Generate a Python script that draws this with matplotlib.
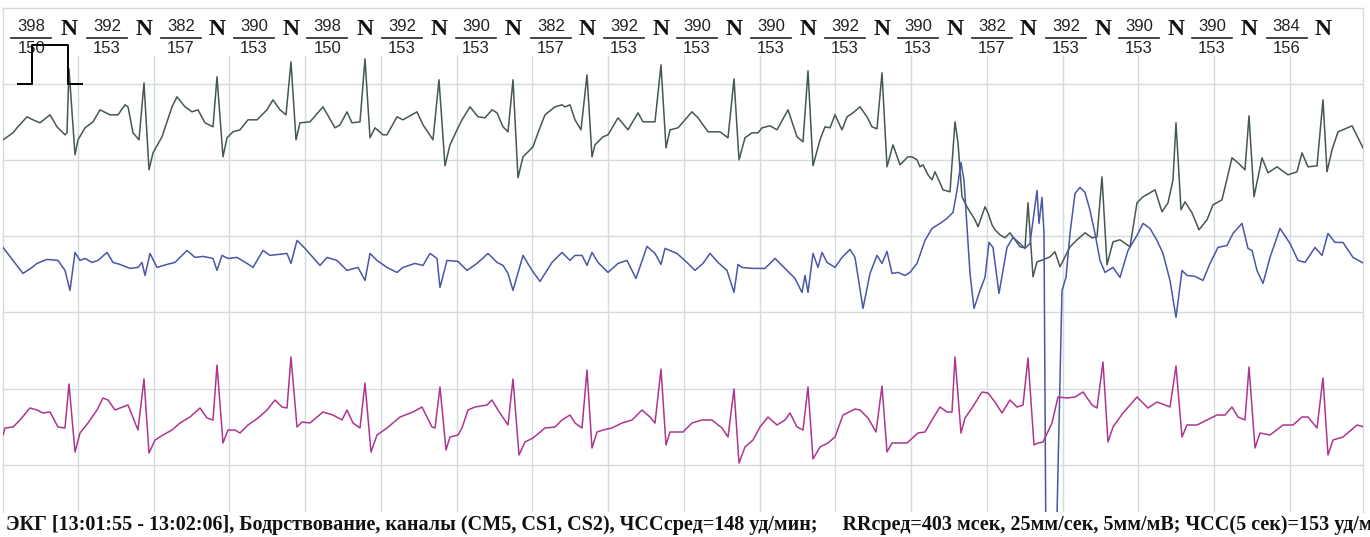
import numpy as np
import matplotlib.pyplot as plt
from matplotlib.transforms import blended_transform_factory

# recording: 25 mm/s, 5 mm/mV, grid 10 mm = 0.4 s / 2 mV
FS = 189.4      # samples per second
GAIN = 38.15    # counts per mV

# channel CM5 (vertices: sample index, counts)
cm5_n = [1, 11, 15, 25, 31, 38, 48, 55, 63, 65, 67, 73, 76, 83, 91, 98, 108, 116, 123, 126,
         131, 137, 142, 147, 151, 160, 170, 175, 183, 190, 196, 203, 211, 215, 221, 225, 231,
         238, 246, 255, 265, 271, 278, 284, 289, 294, 298, 308, 321, 333, 338, 345, 350, 358,
         363, 368, 373, 381, 385, 395, 401, 415, 421, 431, 437, 443, 448, 456, 460, 468, 476,
         483, 490, 495, 501, 506, 511, 516, 521, 531, 536, 543, 553, 560, 563, 568, 573, 579,
         585, 590, 593, 601, 606, 616, 626, 636, 641, 653, 659, 664, 668, 676, 690, 696, 706,
         718, 726, 732, 737, 743, 750, 756, 760, 768, 775, 786, 795, 801, 806, 811, 818, 823,
         828, 833, 840, 845, 851, 858, 865, 870, 875, 880, 885, 891, 898, 906, 910, 915, 918,
         921, 926, 930, 933, 938, 941, 948, 953, 956, 960, 965, 968, 973, 976, 983, 986, 990,
         993, 998, 1003, 1008, 1013, 1018, 1023, 1026, 1029, 1031, 1035, 1041, 1048, 1053,
         1058, 1063, 1068, 1075, 1083, 1090, 1095, 1100, 1105, 1111, 1118, 1128, 1135, 1141,
         1148, 1153, 1160, 1166, 1171, 1174, 1179, 1183, 1190, 1197, 1205, 1211, 1220, 1230,
         1236, 1243, 1247, 1252, 1260, 1266, 1275, 1286, 1295, 1300, 1306, 1315, 1321, 1325,
         1330, 1336, 1350, 1356, 1362]
cm5_c = [20, 27, 32, 43, 40, 37, 45, 33, 25, 27, 91, 5, 20, 32, 38, 50, 45, 45, 55, 53,
         27, 20, 77, -10, 7, 23, 53, 63, 53, 48, 50, 37, 33, 83, 3, 22, 28,
         30, 40, 40, 50, 60, 50, 45, 98, 20, 37, 38, 53, 32, 35, 48, 37, 38,
         101, 22, 32, 25, 25, 43, 40, 48, 35, 20, 80, -6, 15, 32, 40, 53, 43,
         42, 50, 47, 33, 28, 80, -18, 3, 13, 27, 45, 53, 55, 53, 55, 40, 30,
         85, 3, 15, 23, 25, 42, 30, 47, 38, 38, 95, 12, 30, 32, 48, 42, 28,
         28, 22, 81, 0, 22, 27, 27, 32, 34, 30, 50, 23, 18, 89, -6, 20, 33,
         32, 45, 30, 43, 47, 53, 43, 33, 31, 87, -7, 15, -5, 3, 3, 0, -7,
         -5, -15, -20, -12, -23, -30, -32, 38, 17, -37, -47, -52, -60, -67, -47, -53, -65,
         -70, -75, -78, -73, -80, -87, -88, -43, -87, -117, -102, -100, -97, -92,
         -107, -97, -87, -80, -73, -78, -77, -17, -105, -82, -80, -87, -43, -37,
         -33, -30, -52, -43, -20, 37, -50, -42, -53, -70, -60, -45, -40, 2,
         -3, -10, 44, -37, 2, -13, -7, -15, -12, 7, -7, -6, 60, -12,
         10, 28, 34, 22, 10]

# channel CS1
cs1_n = [1, 11, 21, 30, 35, 45, 56, 63, 68, 73, 78, 83, 90, 96, 105, 111, 118, 128, 136, 140,
         143, 148, 155, 165, 173, 185, 193, 201, 211, 215, 220, 226, 235, 245, 251, 261, 268,
         285, 289, 295, 303, 311, 318, 325, 335, 345, 356, 363, 368, 375, 385, 395, 401, 413,
         421, 428, 435, 438, 445, 456, 465, 475, 486, 495, 501, 506, 511, 521, 530, 538, 550,
         560, 568, 573, 580, 585, 590, 596, 606, 616, 625, 634, 645, 653, 659, 663, 675, 686,
         693, 701, 708, 716, 725, 732, 736, 740, 751, 763, 773, 783, 793, 800, 803, 806, 811,
         816, 820, 825, 833, 840, 848, 853, 861, 868, 875, 880, 885, 890, 896, 903, 908, 915,
         923, 930, 938, 945, 951, 955, 959, 962, 965, 968, 972, 978, 983, 987, 991, 997, 1001,
         1005, 1011, 1018, 1023, 1028, 1035, 1037, 1040, 1042, 1044, 1054, 1060, 1064, 1068,
         1073, 1078, 1083, 1088, 1093, 1098, 1103, 1111, 1118, 1126, 1135, 1141, 1148, 1155,
         1161, 1168, 1174, 1180, 1185, 1193, 1201, 1208, 1216, 1225, 1231, 1240, 1246, 1250,
         1255, 1261, 1268, 1278, 1288, 1296, 1303, 1313, 1320, 1326, 1333, 1341, 1351, 1362]
cs1_c = [65, 52, 39, 45, 49, 53, 52, 42, 22, 60, 52, 54, 50, 52, 60, 50, 48, 44, 45, 50,
         37, 59, 45, 48, 50, 62, 55, 56, 54, 42, 57, 54, 55, 49, 45, 62, 57,
         59, 49, 72, 64, 55, 47, 55, 52, 42, 45, 32, 59, 52, 45, 40, 45, 49,
         47, 59, 54, 25, 52, 51, 42, 49, 59, 50, 47, 39, 22, 57, 42, 31, 50,
         60, 52, 57, 57, 47, 60, 50, 40, 49, 52, 34, 66, 59, 48, 64, 59, 49,
         42, 49, 59, 50, 42, 20, 48, 45, 44, 44, 54, 44, 34, 20, 37, 20, 59,
         45, 60, 50, 45, 55, 63, 55, 4, 39, 57, 49, 61, 39, 40, 37, 40, 49,
         72, 84, 89, 94, 100, 122, 150, 132, 85, 39, 4, 22, 35, 70, 65, 19, 42,
         65, 75, 69, 64, 69, 122, 89, 115, 79, -248, -248, 22, 35, 79,
         119, 125, 120, 102, 79, 52, 40, 45, 35, 62, 77, 89, 84, 72,
         59, 32, -5, 42, 37, 36, 32, 49, 65, 67, 79, 89, 64, 62,
         42, 29, 55, 84, 69, 52, 50, 65, 57, 79, 70, 70, 55, 49]

# channel CS2
cs2_n = [1, 3, 11, 18, 28, 35, 41, 48, 56, 63, 67, 73, 78, 86, 95, 101, 106, 113, 118, 126,
         136, 142, 147, 153, 161, 170, 178, 188, 198, 205, 211, 215, 221, 226, 233, 238, 246,
         256, 265, 273, 280, 285, 289, 295, 300, 308, 321, 331, 340, 345, 351, 358, 363, 369,
         375, 385, 398, 411, 420, 430, 433, 438, 444, 448, 456, 460, 466, 473, 485, 490, 496,
         506, 511, 517, 523, 531, 543, 553, 560, 568, 573, 580, 585, 590, 595, 601, 610, 620,
         630, 640, 648, 653, 659, 664, 668, 681, 690, 700, 710, 720, 726, 732, 737, 743, 751,
         758, 766, 775, 783, 788, 795, 801, 806, 811, 818, 826, 833, 841, 853, 858, 866, 874,
         880, 885, 890, 905, 916, 923, 930, 938, 945, 950, 953, 959, 963, 970, 980, 986, 993,
         1000, 1008, 1015, 1021, 1026, 1032, 1036, 1041, 1050, 1056, 1065, 1073, 1081, 1090,
         1095, 1101, 1106, 1111, 1121, 1135, 1146, 1155, 1168, 1174, 1180, 1185, 1195, 1205,
         1215, 1223, 1230, 1236, 1243, 1247, 1253, 1258, 1268, 1281, 1291, 1300, 1306, 1315,
         1321, 1326, 1331, 1341, 1355, 1362]
cs2_c = [30, 37, 38, 45, 57, 55, 52, 53, 38, 37, 81, 13, 32, 42, 55, 67, 65, 55, 57, 60,
         35, 86, 12, 25, 30, 35, 42, 48, 57, 47, 45, 100, 22, 35, 35, 32, 40,
         47, 55, 65, 58, 57, 108, 38, 43, 42, 53, 50, 45, 55, 42, 37, 82, 13,
         30, 37, 48, 53, 58, 38, 37, 78, 15, 28, 30, 37, 55, 58, 60, 65, 55,
         40, 86, 10, 23, 27, 37, 38, 45, 50, 42, 37, 95, 17, 33, 35, 37, 42,
         45, 55, 48, 42, 96, 20, 33, 33, 42, 45, 45, 37, 28, 76, 2, 18, 25,
         38, 48, 40, 45, 52, 38, 35, 78, 6, 18, 22, 28, 50, 56, 55, 47, 33,
         79, 13, 22, 22, 32, 33, 45, 58, 53, 53, 108, 32, 47, 57, 73, 72, 63,
         52, 65, 58, 60, 107, 20, 22, 23, 42, 68, 67, 68, 73, 60,
         57, 103, 23, 38, 52, 68, 57, 63, 58, 99, 28, 40, 40, 45,
         50, 50, 58, 48, 45, 98, 17, 32, 30, 40, 40, 48, 48, 37,
         87, 10, 25, 28, 40, 38]

channels = [(cm5_n, cm5_c, 8.0, '#45594d'),
            (cs1_n, cs1_c, 4.0, '#4a56a6'),
            (cs2_n, cs2_c, 0.0, '#ad3590')]

# beat annotations: R peak sample, RR (ms), HR (bpm)
r_peaks = [67, 142, 215, 289, 363, 437, 511, 585, 659, 732, 806, 880, 953, 1026, 1101, 1174, 1247, 1321]
rr_ms = [398, 392, 382, 390, 398, 392, 390, 382, 392, 390, 390, 392, 390, 382, 392, 390, 390, 384]
hr_bpm = [150, 153, 157, 153, 150, 153, 153, 157, 153, 153, 153, 153, 153, 157, 153, 153, 153, 156]

# calibration pulse 1 mV
cal_t = [0.084, 0.158, 0.158, 0.348, 0.348, 0.422]
cal_mv = [10, 10, 11, 11, 10, 10]

footer = ("ЭКГ [13:01:55 - 13:02:06], Бодрствование, каналы (СМ5, CS1, CS2), ЧССсред=148 уд/мин;     "
          "RRсред=403 мсек, 25мм/сек, 5мм/мВ; ЧСС(5 сек)=153 уд/мин")

grid_col = '#d3dbdf'

fig = plt.figure(figsize=(13.7, 5.37), dpi=100)
ax = fig.add_axes([3 / 1370, 1 - 512 / 537, 1360 / 1370, 504 / 537])
ax.set_xlim(1 / FS, 1361 / FS)
ax.set_ylim(-1.232, 11.98)
ax.set_xticks([])
ax.set_yticks([])
for side in ['left', 'top', 'right']:
    ax.spines[side].set_color(grid_col)
    ax.spines[side].set_linewidth(1.0)
ax.spines['bottom'].set_visible(False)

# grid
ax.vlines(np.arange(1, 18) * 0.4, -1.232, 10.75, color=grid_col, lw=1.0, zorder=1)
ax.hlines(np.arange(0, 11, 2), 0, 1361 / FS, color=grid_col, lw=1.0, zorder=1)

for n, c, off, col in channels:
    t = np.array(n) / FS
    v = off + np.array(c) / GAIN
    ax.plot(t, v, color=col, lw=1.1, zorder=3)

ax.plot(cal_t, cal_mv, color='black', lw=1.4, zorder=4)

# RR / HR labels
trans = blended_transform_factory(ax.transData, ax.transAxes)
for rp, rr, hr in zip(r_peaks, rr_ms, hr_bpm):
    tr = rp / FS
    xc = tr - rr / 2000
    ax.text(xc, 0.964, str(rr), transform=trans, ha='center', va='center',
            fontsize=12, family='Liberation Sans', color='#222222')
    ax.text(xc, 0.919, str(hr), transform=trans, ha='center', va='center',
            fontsize=12, family='Liberation Sans', color='#222222')
    ax.plot([xc - 0.105, xc + 0.105], [0.941, 0.941], transform=trans,
            color='#222222', lw=1.2, clip_on=False)
    ax.text(tr, 0.957, 'N', transform=trans, ha='center', va='center',
            fontsize=17, family='Liberation Serif', weight='bold', color='#111111')

fig.text(6 / 1370, 1 - 525 / 537, footer, ha='left', va='center', fontsize=14.5,
         family='Liberation Serif', weight='bold', color='#111111')

fig.savefig('out.png', dpi=100)
